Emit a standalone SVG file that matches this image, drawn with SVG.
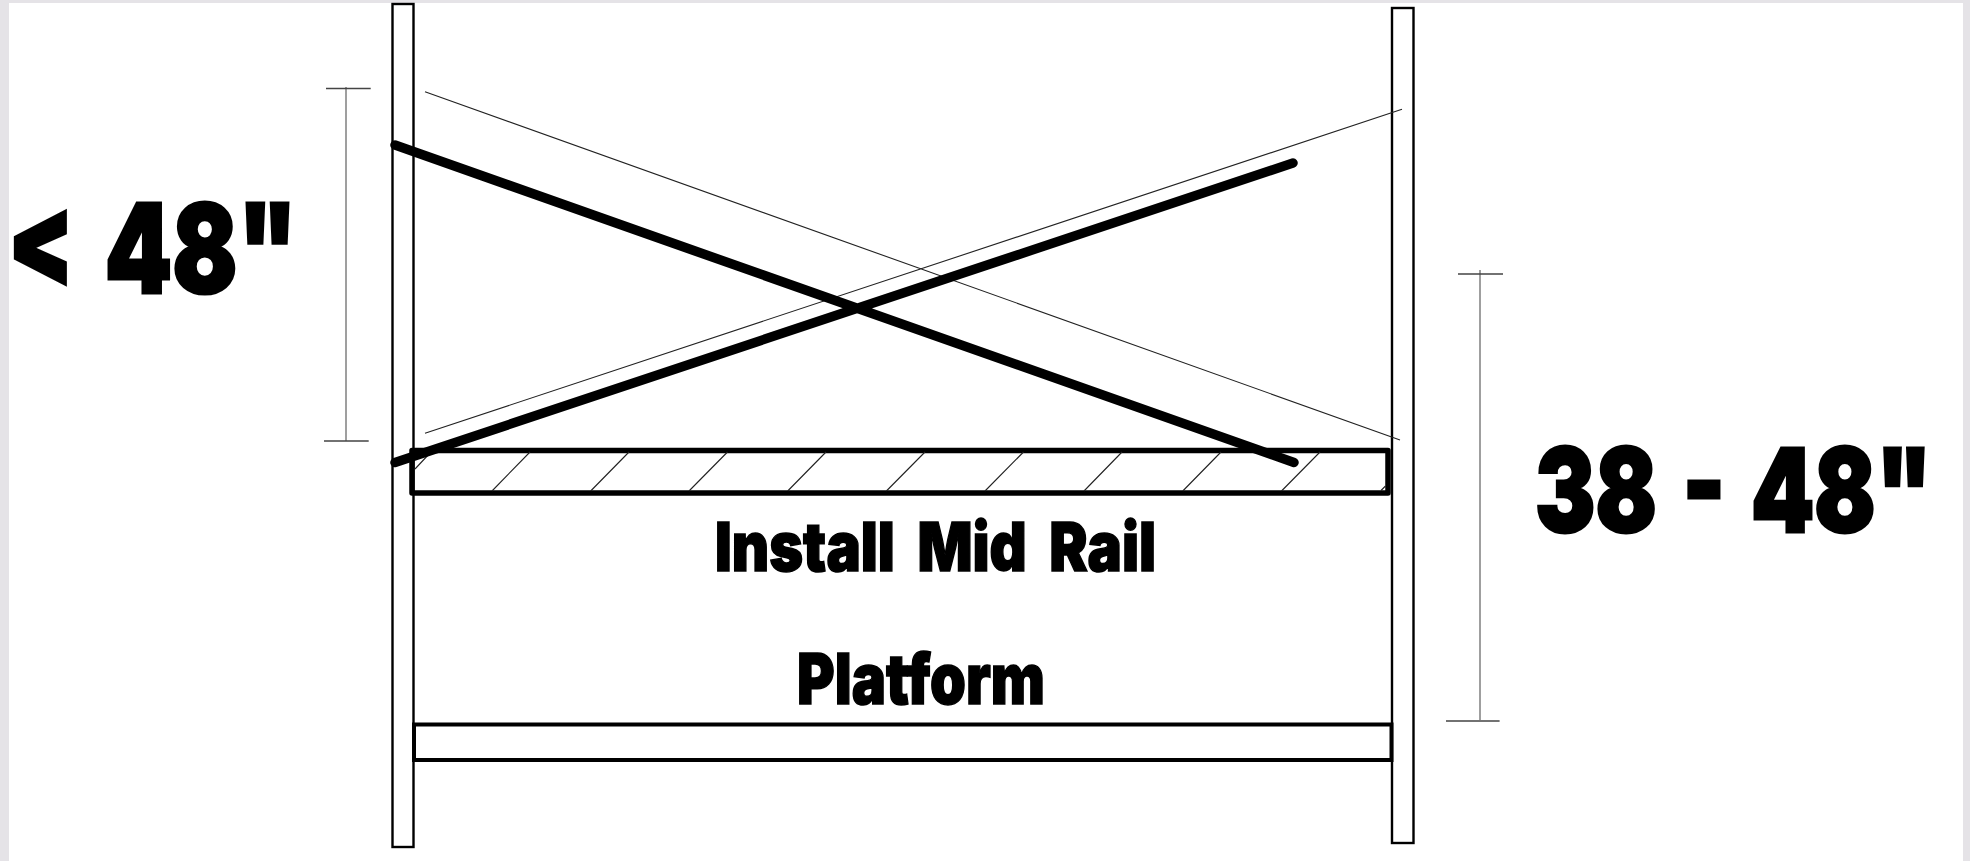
<svg xmlns="http://www.w3.org/2000/svg" width="1970" height="861" viewBox="0 0 1970 861">
<style>
.post{fill:none;stroke:#000;stroke-width:2.4}
.frame{fill:none;stroke:#000;stroke-width:5.5;stroke-linejoin:round}
.plat{fill:none;stroke:#000;stroke-width:4}
.thick{stroke:#000;stroke-width:9.500;stroke-linecap:round;fill:none}
.thin{stroke:#222;stroke-width:1.1;fill:none}
.dim{stroke:#777;stroke-width:1.4;fill:none}
.tick{stroke:#444;stroke-width:1.3;fill:none}
text{font-family:"Inter","Liberation Sans",Arial,sans-serif;font-weight:900;fill:#000;stroke:#000;stroke-linejoin:miter}
.big{stroke-width:3}
.mid{font-size:68px;stroke-width:1.5;word-spacing:13px}
</style>
<rect id="background" width="1970" height="861" fill="#e5e3e7"/>
<rect id="sheet" x="9" y="3" width="1954" height="858" fill="#fff"/>
<g id="post-left"><rect class="post" x="392.5" y="4" width="21" height="843"/></g>
<g id="post-right"><rect class="post" x="1392" y="8" width="21.5" height="835"/></g>
<g id="mid-rail">
<rect class="frame" x="412" y="450.5" width="976" height="42.5"/>
<path class="thin" d="M415 469L430 453M492 491L530 452M590.7 491L629 452M689 491L727.500 452M787.700 491L826 452M886.400 491L925 452M985 491L1023.500 452M1084 491L1122 452M1182.800 491L1221 452M1281.500 491L1320 452M1381 490.500L1385.500 486"/>
</g>
<g id="platform"><rect class="plat" x="414" y="724.500" width="977.500" height="35.500"/></g>
<g id="connectors">
<path class="thin" d="M425 91.700L1400 440M425 433.300L1402 109.300"/>
<path class="thick" d="M395 145L1294 462.500M395 462.500L1293 163"/>
<path class="dim" d="M346 87V441M1480 270V720"/>
<path class="tick" d="M326 88.500H370.700M324 441H368.700M1458 274H1503M1446 721H1499.600"/>
</g>
<g id="label-left"><text class="big" x="7.500" y="293" font-size="124" word-spacing="15" textLength="290" lengthAdjust="spacingAndGlyphs">&lt; 48"</text></g>
<g id="label-right"><text class="big" x="1535" y="531.500" font-size="116" word-spacing="10" textLength="397" lengthAdjust="spacingAndGlyphs">38 - 48"</text></g>
<g id="label-mid-rail"><text class="mid" x="715" y="571" textLength="441" lengthAdjust="spacingAndGlyphs">Install Mid Rail</text></g>
<g id="label-platform"><text class="mid" x="797" y="704" textLength="248" lengthAdjust="spacingAndGlyphs" style="font-size:70px">Platform</text></g>
</svg>
